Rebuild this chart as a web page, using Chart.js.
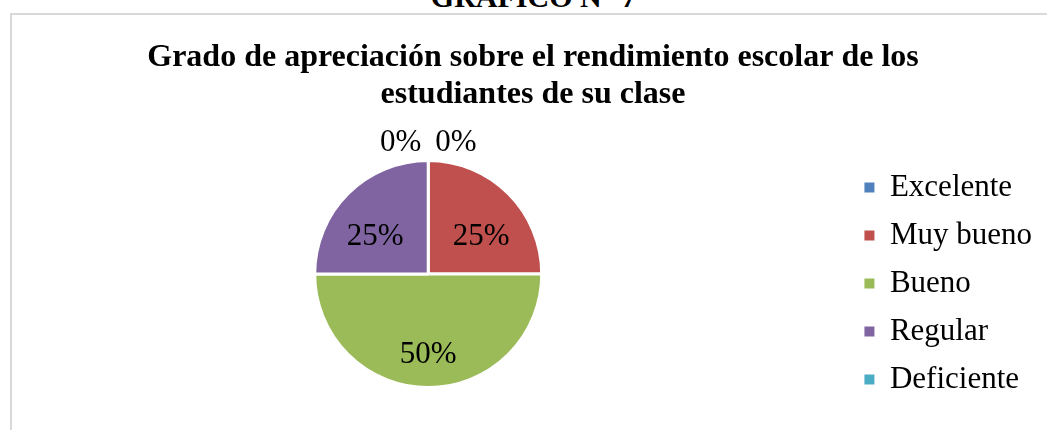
<!DOCTYPE html>
<html>
<head>
<meta charset="utf-8">
<script src="https://cdn.jsdelivr.net/npm/chart.js@4/dist/chart.umd.min.js"></script>
<style>
  html, body { margin: 0; padding: 0; background: #fff; overflow: hidden; width: 1047px; height: 430px; }
  .heading {
    position: absolute; left: 10px; top: -18px; width: 1047px;
    text-align: center; font: bold 30px/30px "Liberation Serif", "Times New Roman", serif; color: #000;
  }
  .frame {
    position: absolute; left: 10px; top: 13px; width: 1047px; height: 430px;
    border: 2px solid #d9d9d9;
  }
  .wrap { position: absolute; left: 9px; top: 15px; width: 1048px; height: 397px; }
</style>
</head>
<body>
<div class="heading">GRÁFICO N° 7</div>
<div class="frame"></div>
<div class="wrap"><canvas id="chart"></canvas></div>
<script>
// data
const titleLines = ['Grado de apreciación sobre el rendimiento escolar de los', 'estudiantes de su clase'];
const categories = ['Excelente', 'Muy bueno', 'Bueno', 'Regular', 'Deficiente'];
const percentages = [0, 25, 50, 25, 0];
const sliceColors = ['#4F81BD', '#C0504D', '#9BBB59', '#8064A2', '#4BACC6'];

const SERIF = "'Liberation Serif', 'Times New Roman', serif";

// Percent labels: inside for real slices, outside above the rim for empty ones
const sliceLabels = {
  id: 'sliceLabels',
  afterDatasetsDraw(chart) {
    const { ctx } = chart;
    const meta = chart.getDatasetMeta(0);
    const values = chart.data.datasets[0].data;
    const total = values.reduce((a, b) => a + b, 0);
    ctx.save();
    ctx.font = '31px ' + SERIF;
    ctx.fillStyle = '#000';
    ctx.textAlign = 'center';
    ctx.textBaseline = 'middle';
    meta.data.forEach((arc, i) => {
      const { x, y, startAngle, endAngle, outerRadius } = arc.getProps(['x', 'y', 'startAngle', 'endAngle', 'outerRadius'], true);
      const text = Math.round(values[i] / total * 100) + '%';
      if (values[i] === 0) {
        const w = ctx.measureText(text).width;
        const side = i < values.length / 2 ? 1 : -1;
        const rr = outerRadius + 18;
        ctx.fillText(text, x + rr * Math.cos(startAngle) + side * (w / 2 + 7), y + rr * Math.sin(startAngle));
      } else {
        const mid = (startAngle + endAngle) / 2;
        ctx.fillText(text,
          x + 0.66 * outerRadius * Math.cos(mid),
          y + 0.61 * outerRadius * Math.sin(mid) + 0.1 * outerRadius);
      }
    });
    ctx.restore();
  }
};

// center the title across the whole frame, not only up to the legend
const titleSpan = {
  id: 'titleSpan',
  afterLayout(chart) {
    const t = chart.titleBlock;
    if (t) { t.left = 0; t.right = chart.width; t.width = chart.width; }
  }
};

new Chart(document.getElementById('chart'), {
  type: 'pie',
  data: {
    labels: categories,
    datasets: [{
      data: percentages,
      backgroundColor: sliceColors,
      borderColor: '#fff',
      borderWidth: 3,
      radius: 113.5,
    }],
  },
  options: {
    responsive: true,
    maintainAspectRatio: false,
    animation: false,
    events: [],
    layout: { padding: { left: 0, right: 15, top: 0, bottom: 0 } },
    plugins: {
      tooltip: { enabled: false },
      title: {
        display: true,
        text: titleLines,
        color: '#000',
        font: { family: SERIF, size: 32, weight: 'bold', lineHeight: 1.156 },
        padding: { top: 24, bottom: 23 },
      },
      legend: {
        position: 'right',
        align: 'end',
        labels: {
          color: '#000',
          font: { family: SERIF, size: 31 },
          boxWidth: 10,
          boxHeight: 10,
          padding: 17,
          generateLabels(chart) {
            const ds = chart.data.datasets[0];
            return chart.data.labels.map((text, i) => ({
              text, index: i, hidden: false,
              fillStyle: ds.backgroundColor[i], strokeStyle: ds.backgroundColor[i],
              lineWidth: 0, fontColor: '#000',
            }));
          },
        },
      },
    },
  },
  plugins: [sliceLabels, titleSpan],
});
</script>
</body>
</html>
